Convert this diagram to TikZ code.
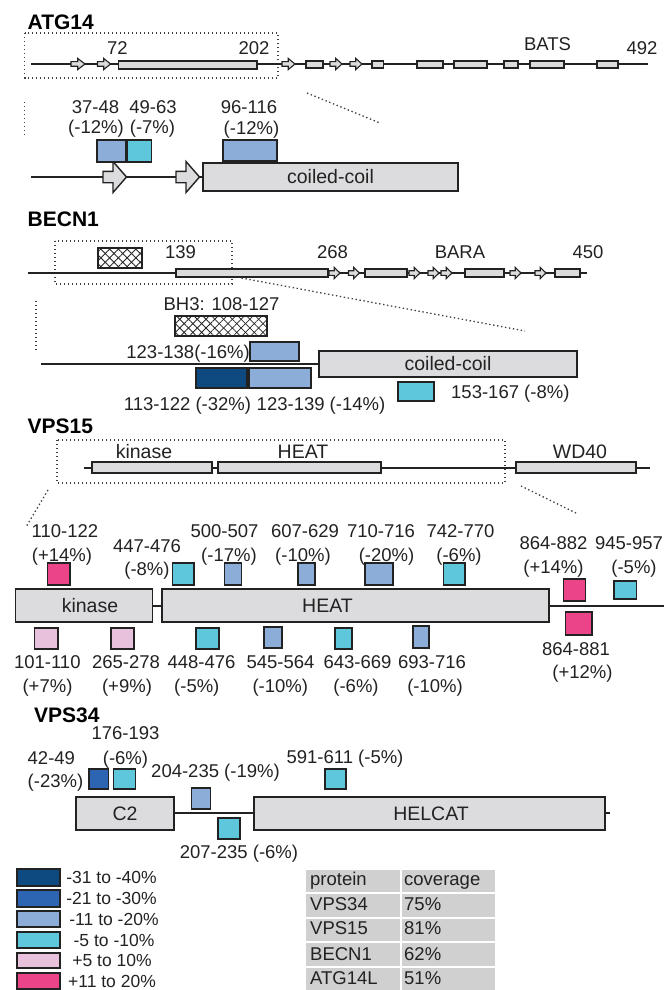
\documentclass[tikz,border=0pt]{standalone}
\usepackage{fontspec}
\setmainfont{Liberation Sans}
\usetikzlibrary{patterns.meta}
\definecolor{cnavy}{HTML}{0E4A80}
\definecolor{cmid}{HTML}{2D65B2}
\definecolor{clb}{HTML}{8DADD9}
\definecolor{ccy}{HTML}{5EC7DB}
\definecolor{clp}{HTML}{E8C2DC}
\definecolor{chp}{HTML}{EC4488}
\definecolor{cdg}{HTML}{DCDCDE}
\definecolor{ctb}{HTML}{D0D0D0}
\definecolor{clc}{HTML}{222222}
\tikzset{
  hl/.style={draw=clc, line width=1.4pt},
  lbl/.style={font=\fontsize{18.5}{20}\selectfont, inner sep=0pt, anchor=base, text=clc},
  tlbl/.style={font=\fontsize{18.5}{20}\selectfont, inner sep=0pt, anchor=base west, text=clc},
  leg/.style={font=\fontsize{17.5}{19}\selectfont, inner sep=0pt, anchor=base, text=clc},
  ttl/.style={font=\bfseries\fontsize{21}{23}\selectfont, inner sep=0pt, anchor=base west, text=black},
  dlbl/.style={font=\fontsize{19.5}{21}\selectfont, inner sep=0pt, anchor=center, text=clc},
  dots/.style={dash pattern=on 1.4pt off 2.6pt, line width=1.3pt, draw=black!75},
}
% colored box: x1 y1 x2 y2 color
\newcommand{\cbx}[5]{\draw[hl, fill=#5] (#1,#2) rectangle (#3,#4);}
% small arrow: left x, center y, total width
\newcommand{\sarr}[3]{\draw[hl, line width=1.1pt, fill=cdg] (#1,#2-2.3) -- ++(#3*0.48,0) -- ++(0,-3.3) -- ++(#3*0.52,5.6) -- ++(-#3*0.52,5.6) -- ++(0,-3.3) -- ++(-#3*0.48,0) -- cycle;}
% big arrow: left x, center y
\newcommand{\barr}[2]{\draw[hl, fill=cdg] (#1,#2-5.7) -- ++(10,0) -- ++(0,-9.8) -- ++(13.5,15.5) -- ++(-13.5,15.5) -- ++(0,-9.8) -- ++(-10,0) -- cycle;}
% hatched box
\newcommand{\hbx}[4]{%
  \fill[white] (#1,#2) rectangle (#3,#4);
  \fill[pattern={Lines[angle=45,distance=6.2pt,line width=0.8pt]}, pattern color=black!85] (#1,#2) rectangle (#3,#4);
  \fill[pattern={Lines[angle=-45,distance=6.2pt,line width=0.8pt]}, pattern color=black!85] (#1,#2) rectangle (#3,#4);
  \draw[hl] (#1,#2) rectangle (#3,#4);}
\begin{document}
\begin{tikzpicture}[x=1pt,y=-1pt]
\useasboundingbox (0,0) rectangle (664,990);

%================ ATG14 =================
\node[ttl] (tatg) at (27.5,30) {ATG14};
\draw[dots] (24.6,33) rectangle (278,78);
\draw[hl] (31,64) -- (648,64);
\sarr{71}{64}{14}
\sarr{97.5}{64}{13}
\cbx{118.6}{61}{257}{69}{cdg}
\sarr{282}{64}{13}
\cbx{306}{61}{323}{68}{cdg}
\sarr{330}{64}{12}
\sarr{350}{64}{12}
\cbx{372}{61}{383.5}{68}{cdg}
\cbx{417}{61}{443}{68}{cdg}
\cbx{454}{61}{487}{68}{cdg}
\cbx{504}{61}{518}{68}{cdg}
\cbx{530}{61}{564}{68}{cdg}
\cbx{597}{61}{618}{68}{cdg}
\node[lbl] (a72) at (117.5,55) {72};
\node[lbl] (a202) at (254,55) {202};
\node[lbl] (abats) at (547.5,51) {BATS};
\node[lbl] (a492) at (642,55) {492};
\draw[dots] (24.6,102) -- (24.6,137);
\draw[dots] (307,93) -- (380,123);
% zoom
\draw[hl] (31,177) -- (203,177);
\barr{103}{177}
\barr{176}{177}
\draw[hl, fill=cdg] (203,163) rectangle (458,191);
\node[dlbl] (acc) at (330.5,177) {coiled-coil};
\cbx{97}{140}{126}{162}{clb}
\cbx{127.5}{140}{151.7}{162}{ccy}
\cbx{223}{140}{277}{161}{clb}
\node[lbl] (a1a) at (95.5,113) {37-48};
\node[lbl] (a1b) at (96,133) {(-12\%)};
\node[lbl] (a2a) at (153,113) {49-63};
\node[lbl] (a2b) at (152.5,133) {(-7\%)};
\node[lbl] (a3a) at (249,113) {96-116};
\node[lbl] (a3b) at (251.5,134) {(-12\%)};

%================ BECN1 =================
\node[ttl] (tbec) at (27.5,226) {BECN1};
\draw[dots] (55,241) rectangle (232,284);
\draw[hl] (27.5,273) -- (587,273);
\hbx{98}{248}{142}{268}
\cbx{176}{269}{328}{277}{cdg}
\sarr{329}{273}{11}
\sarr{348.5}{273}{11}
\cbx{365}{269}{407}{277}{cdg}
\sarr{409}{273}{11}
\sarr{428}{273}{11}
\sarr{441}{273}{11}
\cbx{465}{269}{504}{277}{cdg}
\sarr{510}{273}{11}
\sarr{535}{273}{11}
\cbx{555}{269}{580}{277}{cdg}
\node[lbl] (b139) at (180.5,258) {139};
\node[lbl] (b268) at (332.5,258) {268};
\node[lbl] (bbara) at (460,258) {BARA};
\node[lbl] (b450) at (588,258) {450};
\draw[dots] (36,301) -- (36,352);
\draw[dots] (241.5,278) -- (525,331);
% zoom
\node[lbl] (bbh3) at (221.5,310) {BH3: 108-127};
\hbx{175}{316}{267}{336}
\draw[hl] (41,364) -- (319,364);
\cbx{250}{342}{299}{361}{clb}
\node[lbl, anchor=base east] (b1) at (250,358) {123-138(-16\%)};
\draw[hl, fill=cdg] (319,351) rectangle (577,377);
\node[dlbl] (bcc) at (448,364) {coiled-coil};
\cbx{196}{368}{247}{388}{cnavy}
\cbx{249}{368}{311}{388}{clb}
\cbx{398}{382}{434}{401}{ccy}
\node[lbl, anchor=base west] (b4) at (451,398) {153-167 (-8\%)};
\node[lbl] (b2) at (187.5,410) {113-122 (-32\%)};
\node[lbl] (b3) at (321,410) {123-139 (-14\%)};

%================ VPS15 =================
\node[ttl] (tv15) at (27.5,433) {VPS15};
\draw[dots] (57,440) rectangle (505,483);
\draw[hl] (83.5,468) -- (650,468);
\cbx{92}{462}{212}{473}{cdg}
\cbx{218}{462}{381}{473}{cdg}
\cbx{516}{462}{636}{473}{cdg}
\node[lbl, font=\fontsize{19.5}{21}\selectfont] (vk) at (144,458) {kinase};
\node[lbl, font=\fontsize{19.5}{21}\selectfont] (vh) at (303,458) {HEAT};
\node[lbl, font=\fontsize{19.5}{21}\selectfont] (vw) at (580,458) {WD40};
\draw[dots] (48,490) -- (26,527);
\draw[dots] (521,486) -- (576,513);
% zoom
\draw[hl] (152.5,606) -- (162,606);
\draw[hl] (549,606) -- (664,606);
\draw[hl, fill=cdg] (15.7,589) rectangle (152.5,622);
\draw[hl, fill=cdg] (162,589) rectangle (549,622);
\node[dlbl] (vk2) at (90,605.5) {kinase};
\node[dlbl] (vh2) at (327.5,605.5) {HEAT};
% top boxes
\cbx{47.5}{563}{70}{585}{chp}
\cbx{172.5}{563}{194}{585}{ccy}
\cbx{224.6}{563}{241.5}{585}{clb}
\cbx{298}{563}{315}{585}{clb}
\cbx{365}{563}{393}{585}{clb}
\cbx{443.6}{563}{465}{585}{ccy}
\cbx{563.6}{579}{585.6}{601}{chp}
\cbx{614}{581}{636.4}{599}{ccy}
\node[lbl] (v1a) at (65,537) {110-122};
\node[lbl] (v1b) at (62,561) {(+14\%)};
\node[lbl] (v2a) at (147,552) {447-476};
\node[lbl] (v2b) at (147,575) {(-8\%)};
\node[lbl] (v3a) at (224.5,537) {500-507};
\node[lbl] (v3b) at (229,561) {(-17\%)};
\node[lbl] (v4a) at (305,537) {607-629};
\node[lbl] (v4b) at (303,561) {(-10\%)};
\node[lbl] (v5a) at (381,537) {710-716};
\node[lbl] (v5b) at (386.5,561) {(-20\%)};
\node[lbl] (v6a) at (460.5,537) {742-770};
\node[lbl] (v6b) at (459,561) {(-6\%)};
\node[lbl] (v7a) at (553.5,549) {864-882};
\node[lbl] (v7b) at (553.5,573) {(+14\%)};
\node[lbl] (v8a) at (629,549) {945-957};
\node[lbl] (v8b) at (634,573) {(-5\%)};
% bottom boxes
\cbx{34.7}{628}{58}{649}{clp}
\cbx{111}{628}{134}{649}{clp}
\cbx{196}{628}{219}{649}{ccy}
\cbx{264}{627}{282}{648}{clb}
\cbx{335}{628}{352}{649}{ccy}
\cbx{413}{626}{429}{648}{clb}
\cbx{565.7}{612}{592}{635}{chp}
\node[lbl] (w1a) at (47.3,668) {101-110};
\node[lbl] (w1b) at (47.5,692) {(+7\%)};
\node[lbl] (w2a) at (126,668) {265-278};
\node[lbl] (w2b) at (127,692) {(+9\%)};
\node[lbl] (w3a) at (201.5,668) {448-476};
\node[lbl] (w3b) at (196.8,692) {(-5\%)};
\node[lbl] (w4a) at (280.5,668) {545-564};
\node[lbl] (w4b) at (280.3,692) {(-10\%)};
\node[lbl] (w5a) at (357.5,668) {643-669};
\node[lbl] (w5b) at (356,692) {(-6\%)};
\node[lbl] (w6a) at (432,668) {693-716};
\node[lbl] (w6b) at (435,692) {(-10\%)};
\node[lbl] (w7a) at (576,655) {864-881};
\node[lbl] (w7b) at (582.5,678) {(+12\%)};

%================ VPS34 =================
\node[ttl] (tv34) at (34,722) {VPS34};
\draw[draw=clc, line width=2.8pt] (174,813) -- (254,813);
\draw[draw=clc, line width=2.8pt] (605,813) -- (610,813);
\draw[hl, line width=1.5pt, fill=cdg] (76,797) rectangle (174,830);
\draw[hl, line width=1.5pt, fill=cdg] (254,797) rectangle (605,830);
\node[dlbl] (c2) at (125,813.5) {C2};
\node[dlbl] (hel) at (431,813.5) {HELCAT};
\cbx{89}{769}{108.5}{789}{cmid}
\cbx{113.6}{769}{135.6}{789}{ccy}
\cbx{191.5}{788}{210.6}{809}{clb}
\cbx{325}{769}{346}{789}{ccy}
\cbx{218}{818}{240}{839}{ccy}
\node[lbl] (p1a) at (125.5,739) {176-193};
\node[lbl] (p1b) at (125.5,764) {(-6\%)};
\node[lbl, anchor=base west] (p2a) at (27.5,764) {42-49};
\node[lbl, anchor=base west] (p2b) at (27.5,787) {(-23\%)};
\node[lbl] (p3) at (215.5,777) {204-235 (-19\%)};
\node[lbl] (p4) at (345,763) {591-611 (-5\%)};
\node[lbl] (p5) at (239,858) {207-235 (-6\%)};

%================ legend =================
\cbx{17}{869}{60}{886}{cnavy}
\cbx{17}{890}{60}{907}{cmid}
\cbx{17}{911}{60}{927}{clb}
\cbx{17}{932}{60}{948}{ccy}
\cbx{17}{953}{60}{968}{clp}
\cbx{17}{973}{60}{989}{chp}
\node[leg] (l1) at (111.5,883) {-31 to -40\%};
\node[leg] (l2) at (111.5,904) {-21 to -30\%};
\node[leg] (l3) at (114,925) {-11 to -20\%};
\node[leg] (l4) at (114,946) {-5 to -10\%};
\node[leg] (l5) at (112,966) {+5 to 10\%};
\node[leg] (l6) at (112,987) {+11 to 20\%};

%================ table =================
\foreach \ya/\yb in {870/892, 894/917, 919/941, 943/966, 968/990}{
  \fill[ctb] (306,\ya) rectangle (400,\yb);
  \fill[ctb] (401.5,\ya) rectangle (494.5,\yb);
}
\node[tlbl] (t11) at (310,885) {protein};
\node[tlbl] (t12) at (404,885) {coverage};
\node[tlbl] (t21) at (310,910) {VPS34};
\node[tlbl] (t22) at (404,910) {75\%};
\node[tlbl] (t31) at (310,934) {VPS15};
\node[tlbl] (t32) at (404,934) {81\%};
\node[tlbl] (t41) at (310,960) {BECN1};
\node[tlbl] (t42) at (404,960) {62\%};
\node[tlbl] (t51) at (310,984) {ATG14L};
\node[tlbl] (t52) at (404,984) {51\%};
\end{tikzpicture}
\end{document}
